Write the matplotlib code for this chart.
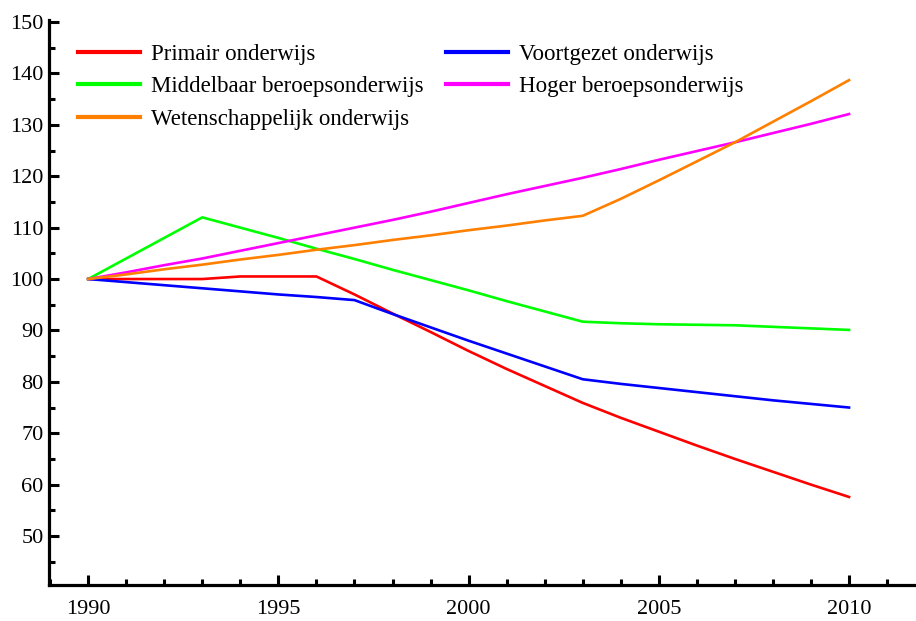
import matplotlib
matplotlib.use("Agg")
import matplotlib.pyplot as plt
from matplotlib.ticker import MultipleLocator

years = list(range(1990, 2011))

primair = [100.0, 100.0, 100.0, 100.0, 100.5, 100.5, 100.5, 97.0, 93.3, 89.7,
           86.0, 82.5, 79.2, 75.9, 73.0, 70.3, 67.6, 65.0, 62.5, 60.0, 57.6]
voortgezet = [100.0, 99.4, 98.8, 98.2, 97.6, 97.0, 96.5, 95.9, 93.2, 90.6,
              88.0, 85.5, 83.0, 80.5, 79.6, 78.8, 78.0, 77.2, 76.4, 75.7, 75.0]
mbo = [100.0, 104.0, 108.0, 112.0, 110.0, 108.0, 105.9, 103.9, 101.8, 99.8,
       97.8, 95.7, 93.7, 91.7, 91.4, 91.2, 91.1, 91.0, 90.7, 90.4, 90.1]
hbo = [100.0, 101.3, 102.7, 104.0, 105.5, 107.0, 108.5, 110.0, 111.5, 113.1,
       114.8, 116.5, 118.1, 119.7, 121.4, 123.2, 124.9, 126.6, 128.4, 130.2, 132.1]
wo = [100.0, 100.9, 101.9, 102.8, 103.8, 104.7, 105.7, 106.6, 107.6, 108.5,
      109.5, 110.4, 111.4, 112.3, 115.6, 119.2, 122.9, 126.6, 130.6, 134.6, 138.7]

labels = ["Primair onderwijs", "Voortgezet onderwijs", "Middelbaar beroepsonderwijs",
          "Hoger beroepsonderwijs", "Wetenschappelijk onderwijs"]
series = [primair, voortgezet, mbo, hbo, wo]
colors = ["#ff0000", "#0000ff", "#00ff00", "#ff00ff", "#ff8000"]

plt.rcParams['font.family'] = ['Liberation Serif', 'DejaVu Serif']

fig = plt.figure(figsize=(9.16, 6.21), dpi=100)
ax = fig.add_axes([49/916, 36/621, 867/916, 565/621])

handles = []
for s, lab, c in zip(series, labels, colors):
    h, = ax.plot(years, s, color=c, lw=1.9, label=lab)
    handles.append(h)

ax.set_xlim(1988.97, 2011.76)
ax.set_ylim(40.47, 150.4)
ax.xaxis.set_major_locator(MultipleLocator(5))
ax.xaxis.set_minor_locator(MultipleLocator(1))
ax.yaxis.set_major_locator(MultipleLocator(10))
ax.yaxis.set_minor_locator(MultipleLocator(5))
ax.set_yticks(range(50, 151, 10))

for side in ["top", "right"]:
    ax.spines[side].set_visible(False)
for side in ["left", "bottom"]:
    ax.spines[side].set_linewidth(2.3)
ax.tick_params(which="major", direction="in", length=7, width=2.2, labelsize=16)
ax.tick_params(which="minor", direction="in", length=4, width=2.2)
ax.tick_params(axis="x", which="major", pad=11)
ax.tick_params(axis="y", which="major", pad=4)

order = [0, 2, 4, 1, 3]
leg = ax.legend([handles[i] for i in order], [labels[i] for i in order],
                ncol=2, loc="upper left", bbox_to_anchor=(0.0334, 0.958),
                frameon=False, fontsize=16.5, borderaxespad=0, borderpad=0,
                handlelength=2.7, handletextpad=0.5, columnspacing=0.95,
                labelspacing=0.5)
for lh in leg.get_lines():
    lh.set_linewidth(3)

fig.savefig("out.png", dpi=100)
